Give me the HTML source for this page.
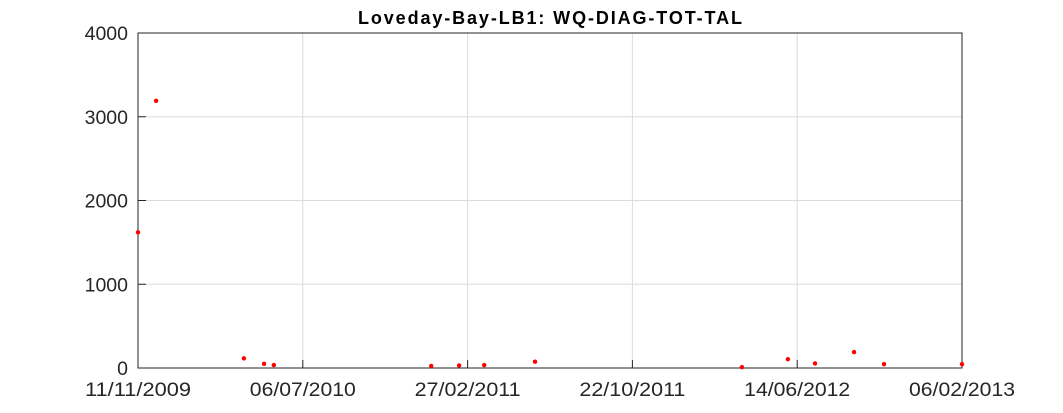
<!DOCTYPE html>
<html><head><meta charset="utf-8"><style>
body{margin:0;background:#fff;font-family:"Liberation Sans",sans-serif}
svg{display:block}
</style></head><body>
<svg id="chart" width="1063" height="413">
<rect x="0" y="0" width="1063" height="413" fill="#fff"/>
<text x="550" y="24" text-anchor="middle" font-size="18" font-weight="bold" fill="#000" textLength="384" lengthAdjust="spacing">Loveday-Bay-LB1: WQ-DIAG-TOT-TAL</text>
<g id="grid"></g>
<rect x="138" y="33" width="824" height="335" fill="none" stroke="#262626" stroke-width="1"/>
<g id="ticks"></g>
<g id="points"></g>
</svg>
<script>
const xTickLabels=["11/11/2009","06/07/2010","27/02/2011","22/10/2011","14/06/2012","06/02/2013"];
const yTicks=[0,1000,2000,3000,4000];
const dayValues=[0,26,152,181,195,421,461,497,570,867,933,972,1028,1071,1183];
const talValues=[1620,3190,115,50,35,25,30,35,75,10,105,55,190,45,45];
const X0=138,X1=962,Y0=368,Y1=33,DMAX=1183,VMAX=4000;
const xs=d=>X0+(d/DMAX)*(X1-X0);
const ys=v=>Y0-(v/VMAX)*(Y0-Y1);
const ns="http://www.w3.org/2000/svg";
const grid=document.getElementById('grid'),ticks=document.getElementById('ticks'),pts=document.getElementById('points');
function mk(tag,attrs,parent){const e=document.createElementNS(ns,tag);for(const k in attrs)e.setAttribute(k,attrs[k]);parent.appendChild(e);return e;}
xTickLabels.forEach((lab,i)=>{
  const x=X0+i*(X1-X0)/(xTickLabels.length-1);
  const g=mk('line',{x1:x,x2:x,y1:Y1,y2:Y0,stroke:'#dcdcdc','stroke-width':1},grid);
  
  
  const t=mk('line',{x1:x,x2:x,y1:Y0,y2:Y0-8,stroke:'#262626'},ticks);
  
  
  const tx=mk('text',{x:x,y:396,'text-anchor':'middle','font-size':19,fill:'#262626',textLength:106,lengthAdjust:'spacingAndGlyphs'},ticks);
  tx.textContent=lab;
  
  
});
yTicks.forEach(v=>{
  const y=ys(v);
  const g=mk('line',{x1:X0,x2:X1,y1:y,y2:y,stroke:'#dcdcdc','stroke-width':1},grid);
  
  
  const t=mk('line',{x1:X0,x2:X0+8,y1:y,y2:y,stroke:'#262626'},ticks);
  
  
  const tx=mk('text',{x:128,y:y+7,'text-anchor':'end','font-size':19.5,fill:'#262626'},ticks);
  tx.textContent=v;
  
  
});
dayValues.forEach((d,i)=>{
  const c=mk('circle',{cx:xs(d),cy:ys(talValues[i]),r:2.2,fill:'#ff0000'},pts);
  
  
});
</script>
</body></html>
